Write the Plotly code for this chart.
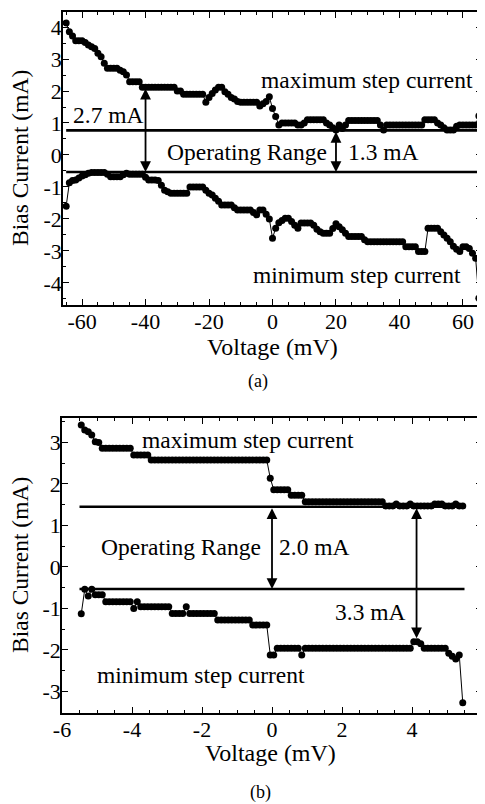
import plotly.graph_objects as go

# ---------------- data ----------------
# Panel (a): voltage in mV, 1 mV steps from -65 to 65
volt_a = list(range(-65, 66))
max_step_a = [
    4.13, 3.85, 3.72, 3.57, 3.57, 3.57, 3.52, 3.44, 3.38, 3.33,
    3.18, 3.07, 2.87, 2.71, 2.71, 2.71, 2.71, 2.65, 2.60, 2.50,
    2.29, 2.29, 2.29, 2.29, 2.12, 2.12, 2.12, 2.12, 2.12, 2.12,
    2.12, 2.12, 2.12, 2.12, 2.12, 2.00, 2.00, 1.90, 1.90, 1.90,
    1.90, 1.90, 1.90, 1.90, 1.65, 1.80, 1.92, 2.03, 2.12, 2.12,
    1.98, 1.90, 1.80, 1.75, 1.67, 1.65, 1.65, 1.65, 1.65, 1.65,
    1.65, 1.53, 1.60, 1.67, 1.82, 1.45, 1.20, 0.94, 1.00, 1.00,
    1.00, 1.00, 1.00, 0.94, 0.94, 1.00, 1.10, 1.10, 1.10, 1.10,
    1.10, 1.10, 1.00, 0.94, 0.85, 0.78, 0.94, 0.83, 0.94, 1.08,
    1.08, 1.08, 1.08, 1.08, 1.08, 1.08, 1.08, 1.08, 1.08, 0.94,
    0.78, 0.94, 0.94, 0.94, 0.94, 0.94, 0.94, 0.94, 0.94, 0.94,
    0.94, 0.94, 0.94, 1.10, 1.10, 1.10, 1.10, 1.00, 0.94, 0.85,
    0.78, 0.78, 0.78, 0.90, 0.94, 0.94, 0.94, 0.94, 0.94, 0.94,
    1.22,
]
min_step_a = [
    -1.60, -0.87, -0.80, -0.78, -0.72, -0.66, -0.62, -0.57, -0.55, -0.55,
    -0.55, -0.55, -0.55, -0.60, -0.68, -0.68, -0.68, -0.68, -0.62, -0.57,
    -0.60, -0.60, -0.60, -0.60, -0.60, -0.70, -0.78, -0.78, -0.78, -0.80,
    -0.95, -1.10, -1.15, -1.20, -1.20, -1.20, -1.20, -1.20, -1.20, -1.00,
    -1.00, -1.00, -1.00, -1.00, -1.10, -1.20, -1.25, -1.35, -1.45, -1.56,
    -1.56, -1.56, -1.56, -1.65, -1.72, -1.72, -1.72, -1.72, -1.72, -1.80,
    -1.87, -1.72, -1.72, -1.85, -2.00, -2.60, -2.29, -2.12, -2.05, -1.98,
    -1.98, -2.08, -2.20, -2.29, -2.13, -2.13, -2.13, -2.13, -2.20, -2.32,
    -2.40, -2.45, -2.45, -2.45, -2.30, -2.15, -2.24, -2.34, -2.45, -2.55,
    -2.55, -2.55, -2.55, -2.55, -2.65, -2.71, -2.71, -2.71, -2.71, -2.71,
    -2.71, -2.71, -2.71, -2.71, -2.71, -2.71, -2.71, -2.87, -2.87, -2.87,
    -2.87, -3.02, -3.02, -3.02, -2.29, -2.29, -2.29, -2.29, -2.40, -2.50,
    -2.60, -2.71, -2.85, -2.95, -3.02, -2.87, -2.87, -2.92, -3.07, -3.23,
    -4.48,
]
op_lines_a = [0.77, -0.53]          # operating range limits (mA)
op_span_a = [-65, 66]               # voltage extent of those lines (mV)
arrow_a_left = [-40, 2.12, -0.53]   # V, top, bottom  (2.7 mA)
arrow_a_right = [20, 0.77, -0.53]   # V, top, bottom  (1.3 mA)

# Panel (b): voltage in mV, 0.1 mV steps from -5.45 to 5.45
volt_b = [round(-5.45 + 0.1 * i, 2) for i in range(110)]
max_step_b = [
    3.42, 3.30, 3.26, 3.18, 3.02, 3.00, 2.86, 2.86, 2.86, 2.86,
    2.86, 2.86, 2.86, 2.86, 2.86, 2.70, 2.70, 2.70, 2.70, 2.70,
    2.58, 2.58, 2.58, 2.58, 2.58, 2.58, 2.58, 2.58, 2.58, 2.58,
    2.58, 2.58, 2.58, 2.58, 2.58, 2.58, 2.58, 2.58, 2.58, 2.58,
    2.58, 2.58, 2.58, 2.58, 2.58, 2.58, 2.58, 2.58, 2.58, 2.58,
    2.58, 2.58, 2.58, 2.58, 2.14, 1.86, 1.86, 1.86, 1.86, 1.86,
    1.73, 1.73, 1.73, 1.73, 1.57, 1.57, 1.57, 1.57, 1.57, 1.57,
    1.57, 1.57, 1.57, 1.57, 1.57, 1.57, 1.57, 1.57, 1.57, 1.57,
    1.57, 1.57, 1.57, 1.57, 1.57, 1.57, 1.57, 1.47, 1.47, 1.47,
    1.52, 1.47, 1.47, 1.47, 1.52, 1.47, 1.47, 1.47, 1.47, 1.47,
    1.47, 1.52, 1.52, 1.52, 1.47, 1.47, 1.47, 1.52, 1.47, 1.47,
]
min_step_b = [
    -1.13, -0.54, -0.70, -0.54, -0.67, -0.67, -0.67, -0.84, -0.84, -0.84,
    -0.84, -0.84, -0.84, -0.84, -0.84, -1.00, -0.84, -0.96, -0.96, -0.96,
    -0.96, -0.96, -0.96, -0.96, -0.96, -0.96, -1.12, -1.12, -1.12, -1.12,
    -0.96, -1.12, -1.12, -1.12, -1.12, -1.12, -1.12, -1.12, -1.12, -1.28,
    -1.28, -1.28, -1.28, -1.28, -1.28, -1.28, -1.28, -1.28, -1.28, -1.40,
    -1.40, -1.40, -1.40, -1.40, -2.12, -2.12, -1.96, -1.96, -1.96, -1.96,
    -1.96, -1.96, -1.96, -2.12, -1.96, -1.96, -1.96, -1.96, -1.96, -1.96,
    -1.96, -1.96, -1.96, -1.96, -1.96, -1.96, -1.96, -1.96, -1.96, -1.96,
    -1.96, -1.96, -1.96, -1.96, -1.96, -1.96, -1.96, -1.96, -1.96, -1.96,
    -1.96, -1.96, -1.96, -1.96, -1.96, -1.80, -1.80, -1.85, -1.96, -1.96,
    -1.96, -1.96, -1.96, -1.96, -1.96, -2.08, -2.15, -2.22, -2.12, -3.27,
]
op_lines_b = [1.45, -0.53]
op_span_b = [-5.5, 5.5]
arrow_b_left = [0.0, 1.45, -0.53]    # 2.0 mA
arrow_b_right = [4.13, 1.45, -1.72]  # 3.3 mA

ticks_a_x = [-60, -40, -20, 0, 20, 40, 60]
ticks_a_y = [-4, -3, -2, -1, 0, 1, 2, 3, 4]
ticks_b_x = [-6, -4, -2, 0, 2, 4, 6]
ticks_b_y = [-3, -2, -1, 0, 1, 2, 3]

assert len(max_step_a) == len(volt_a) and len(min_step_a) == len(volt_a)
assert len(max_step_b) == len(volt_b) and len(min_step_b) == len(volt_b)

# ---------------- figure ----------------
OFF = 8                      # default page (body) margin of the browser
W, H = 485 - OFF, 804 - OFF
FONT = "Liberation Serif, Times New Roman, serif"
BLACK = "#000000"


def lab(v):
    return str(v)  # hyphen-minus like the original


def px(p):
    return (p - OFF) / W


def py(p):
    return 1 - (p - OFF) / H


fig = go.Figure()

marker = dict(size=7, color=BLACK)
for xs, ys, xa, ya in [
    (volt_a, max_step_a, "x", "y"),
    (volt_a, min_step_a, "x", "y"),
    (volt_b, max_step_b, "x2", "y2"),
    (volt_b, min_step_b, "x2", "y2"),
]:
    fig.add_trace(go.Scatter(x=xs, y=ys, mode="lines+markers", xaxis=xa, yaxis=ya,
                             line=dict(color=BLACK, width=1), marker=marker,
                             showlegend=False, hoverinfo="skip"))

for level in op_lines_a:
    fig.add_trace(go.Scatter(x=op_span_a, y=[level, level], mode="lines", xaxis="x", yaxis="y",
                             line=dict(color=BLACK, width=2.6), showlegend=False))
for level in op_lines_b:
    fig.add_trace(go.Scatter(x=op_span_b, y=[level, level], mode="lines", xaxis="x2", yaxis="y2",
                             line=dict(color=BLACK, width=2.6), showlegend=False))

axis_common = dict(
    showline=True, linecolor=BLACK, linewidth=1.5, mirror="allticks",
    ticks="inside", ticklen=6, tickwidth=1.2, tickcolor=BLACK,
    showgrid=False, zeroline=False, automargin=False,
    tickfont=dict(family=FONT, size=22, color=BLACK),
)


def minor(d):
    return dict(tickmode="linear", tick0=0, dtick=d, ticks="inside", ticklen=3,
                tickcolor=BLACK, showgrid=False)


fig.update_layout(
    template="none",
    width=W, height=H,
    margin=dict(l=0, r=0, t=0, b=0, pad=0),
    paper_bgcolor="white", plot_bgcolor="white",
    xaxis=dict(domain=[px(63), px(482)], range=[-66, 66], anchor="y",
               tickmode="array", tickvals=ticks_a_x, ticktext=[lab(v) for v in ticks_a_x],
               minor=minor(5), ticklabelstandoff=-4, **axis_common),
    yaxis=dict(domain=[py(305), py(12)], range=[-4.69, 4.47], anchor="x",
               tickmode="array", tickvals=ticks_a_y, ticktext=[lab(v) for v in ticks_a_y],
               minor=minor(0.5), ticklabelstandoff=-5, **axis_common),
    xaxis2=dict(domain=[px(62), px(482)], range=[-6, 6], anchor="y2",
                tickmode="array", tickvals=ticks_b_x, ticktext=[lab(v) for v in ticks_b_x],
                minor=minor(0.5), ticklabelstandoff=-4, **axis_common),
    yaxis2=dict(domain=[py(713), py(418)], range=[-3.52, 3.59], anchor="x2",
                tickmode="array", tickvals=ticks_b_y, ticktext=[lab(v) for v in ticks_b_y],
                minor=minor(0.5), ticklabelstandoff=-5, **axis_common),
)

ann = []


def text(x, y, s, xref, yref, xanchor="center", size=23.5, angle=0):
    ann.append(dict(x=x, y=y, xref=xref, yref=yref, text=s, showarrow=False,
                    xanchor=xanchor, yanchor="middle", textangle=angle,
                    font=dict(family=FONT, size=size, color=BLACK)))


def darrow(spec, xref, yref):
    v, top, bot = spec
    ann.append(dict(x=v, y=bot, ax=v, ay=top, xref=xref, yref=yref, axref=xref, ayref=yref,
                    text="", showarrow=True, arrowhead=2, startarrowhead=2,
                    arrowside="end+start", arrowsize=1.2, arrowwidth=1.8, arrowcolor=BLACK,
                    standoff=0, startstandoff=0))


# panel (a)
text(29.7, 2.34, "maximum step current", "x", "y")
text(-51.6, 1.25, "2.7 mA", "x", "y")
text(-7.9, 0.10, "Operating Range", "x", "y")
text(23.0, 0.10, "1.3 mA", "x", "y", xanchor="left")
text(26.5, -3.75, "minimum step current", "x", "y")
darrow(arrow_a_left, "x", "y")
darrow(arrow_a_right, "x", "y")

# panel (b)
text(-0.69, 3.06, "maximum step current", "x2", "y2")
text(-2.61, 0.49, "Operating Range", "x2", "y2")
text(0.13, 0.49, "2.0 mA", "x2", "y2", xanchor="left")
text(3.89, -1.08, "3.3 mA", "x2", "y2", xanchor="right")
text(-2.03, -2.60, "minimum step current", "x2", "y2")
darrow(arrow_b_left, "x2", "y2")
darrow(arrow_b_right, "x2", "y2")

# axis titles and panel labels
text(px(272), py(347), "Voltage (mV)", "paper", "paper", size=24)
text(px(270), py(753), "Voltage (mV)", "paper", "paper", size=24)
text(px(20), py(158), "Bias Current (mA)", "paper", "paper", size=23.5, angle=-90)
text(px(20), py(565), "Bias Current (mA)", "paper", "paper", size=23.5, angle=-90)
text(px(258), py(381), "(a)", "paper", "paper", size=18)
text(px(260), py(792), "(b)", "paper", "paper", size=18)

fig.update_layout(annotations=ann)
fig.write_html("out.html")
